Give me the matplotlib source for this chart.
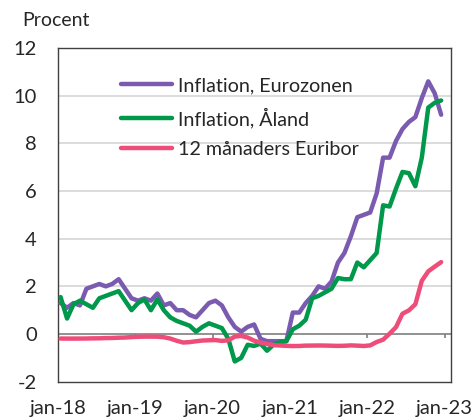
import numpy as np
import matplotlib
matplotlib.use("Agg")
import matplotlib.pyplot as plt

plt.rcParams['font.family'] = ['Lato', 'DejaVu Sans']

# Monthly data, jan-18 .. dec-22
euro_infl = [1.3, 1.1, 1.3, 1.2, 1.9, 2.0, 2.1, 2.0, 2.1, 2.3, 1.9, 1.5,
             1.4, 1.5, 1.4, 1.7, 1.2, 1.3, 1.0, 1.0, 0.8, 0.7, 1.0, 1.3,
             1.4, 1.2, 0.7, 0.3, 0.1, 0.3, 0.4, -0.2, -0.3, -0.3, -0.3, -0.3,
             0.9, 0.9, 1.3, 1.6, 2.0, 1.9, 2.2, 3.0, 3.4, 4.1, 4.9, 5.0,
             5.1, 5.9, 7.4, 7.4, 8.1, 8.6, 8.9, 9.1, 9.9, 10.6, 10.1, 9.2]
aland_infl = [1.55, 0.65, 1.25, 1.4, 1.25, 1.1, 1.5, 1.6, 1.7, 1.8, 1.4, 1.0,
              1.3, 1.45, 1.0, 1.45, 1.0, 0.7, 0.55, 0.45, 0.35, 0.1, 0.3, 0.45,
              0.35, 0.25, -0.2, -1.15, -1.0, -0.45, -0.5, -0.4, -0.7, -0.45, -0.35, -0.3,
              0.2, 0.35, 0.6, 1.5, 1.6, 1.75, 1.9, 2.35, 2.3, 2.3, 3.0, 2.8,
              3.1, 3.4, 5.4, 5.35, 6.1, 6.8, 6.75, 6.2, 7.4, 9.5, 9.7, 9.8]
euribor = [-0.189, -0.191, -0.191, -0.190, -0.188, -0.181, -0.180, -0.169, -0.166, -0.154, -0.147, -0.129,
           -0.116, -0.108, -0.109, -0.112, -0.134, -0.190, -0.283, -0.356, -0.339, -0.304, -0.272, -0.261,
           -0.253, -0.288, -0.266, -0.108, -0.081, -0.147, -0.279, -0.359, -0.415, -0.466, -0.481, -0.497,
           -0.505, -0.501, -0.487, -0.484, -0.481, -0.484, -0.491, -0.498, -0.492, -0.477, -0.487, -0.502,
           -0.477, -0.335, -0.237, 0.013, 0.287, 0.852, 0.992, 1.249, 2.233, 2.629, 2.828, 3.018]

series_names = ["Inflation, Eurozonen", "Inflation, Åland", "12 månaders Euribor"]
series_colors = ["#7B5BB0", "#00984A", "#EE4D7A"]
xtick_labels = ["jan-18", "jan-19", "jan-20", "jan-21", "jan-22", "jan-23"]
yticks = [-2, 0, 2, 4, 6, 8, 10, 12]

fig = plt.figure(figsize=(4.76, 4.19), dpi=100)
ax = fig.add_axes([57.7/476, 1-381.7/419, (450.7-57.7)/476, (381.7-48)/419])

x = np.arange(len(euro_infl)) + 0.45
for data, name, col in zip([euro_infl, aland_infl, euribor], series_names, series_colors):
    ax.plot(x, data, color=col, lw=3.2, label=name, solid_capstyle='round',
            solid_joinstyle='round', zorder=3)

ax.set_xlim(0, 60.93)
ax.set_ylim(-2, 12)

# gridlines
for yv in yticks:
    if yv not in (-2, 0, 12):
        ax.axhline(yv, color='#D9D9D9', lw=1.3, zorder=1)
ax.axhline(0, color='#7F7F7F', lw=1.2, zorder=2)
xt = [0, 12, 24, 36, 48, 60]
ax.vlines(xt[1:], -0.18, 0, color='#7F7F7F', lw=1.2, zorder=2)

ax.set_yticks(yticks)
ax.set_yticklabels([str(v) for v in yticks])
ax.set_xticks(xt)
ax.set_xticklabels(xtick_labels)
ax.tick_params(axis='both', length=0, labelsize=14.5, colors='#262626')
ax.tick_params(axis='y', pad=15)
ax.tick_params(axis='x', pad=13)

for s in ax.spines.values():
    s.set_color('#404040')
    s.set_linewidth(1.0)

fig.text(22/476, 1-21/419, "Procent", fontsize=14, color='#262626', va='center', ha='left')

leg = ax.legend(loc='upper left', bbox_to_anchor=(0.14, 0.936), frameon=False,
                fontsize=14.2, handlelength=2.6, handletextpad=0.3, labelspacing=0.66,
                borderaxespad=0)
for t in leg.get_texts():
    t.set_color('#262626')

fig.savefig("out.png", dpi=100)
